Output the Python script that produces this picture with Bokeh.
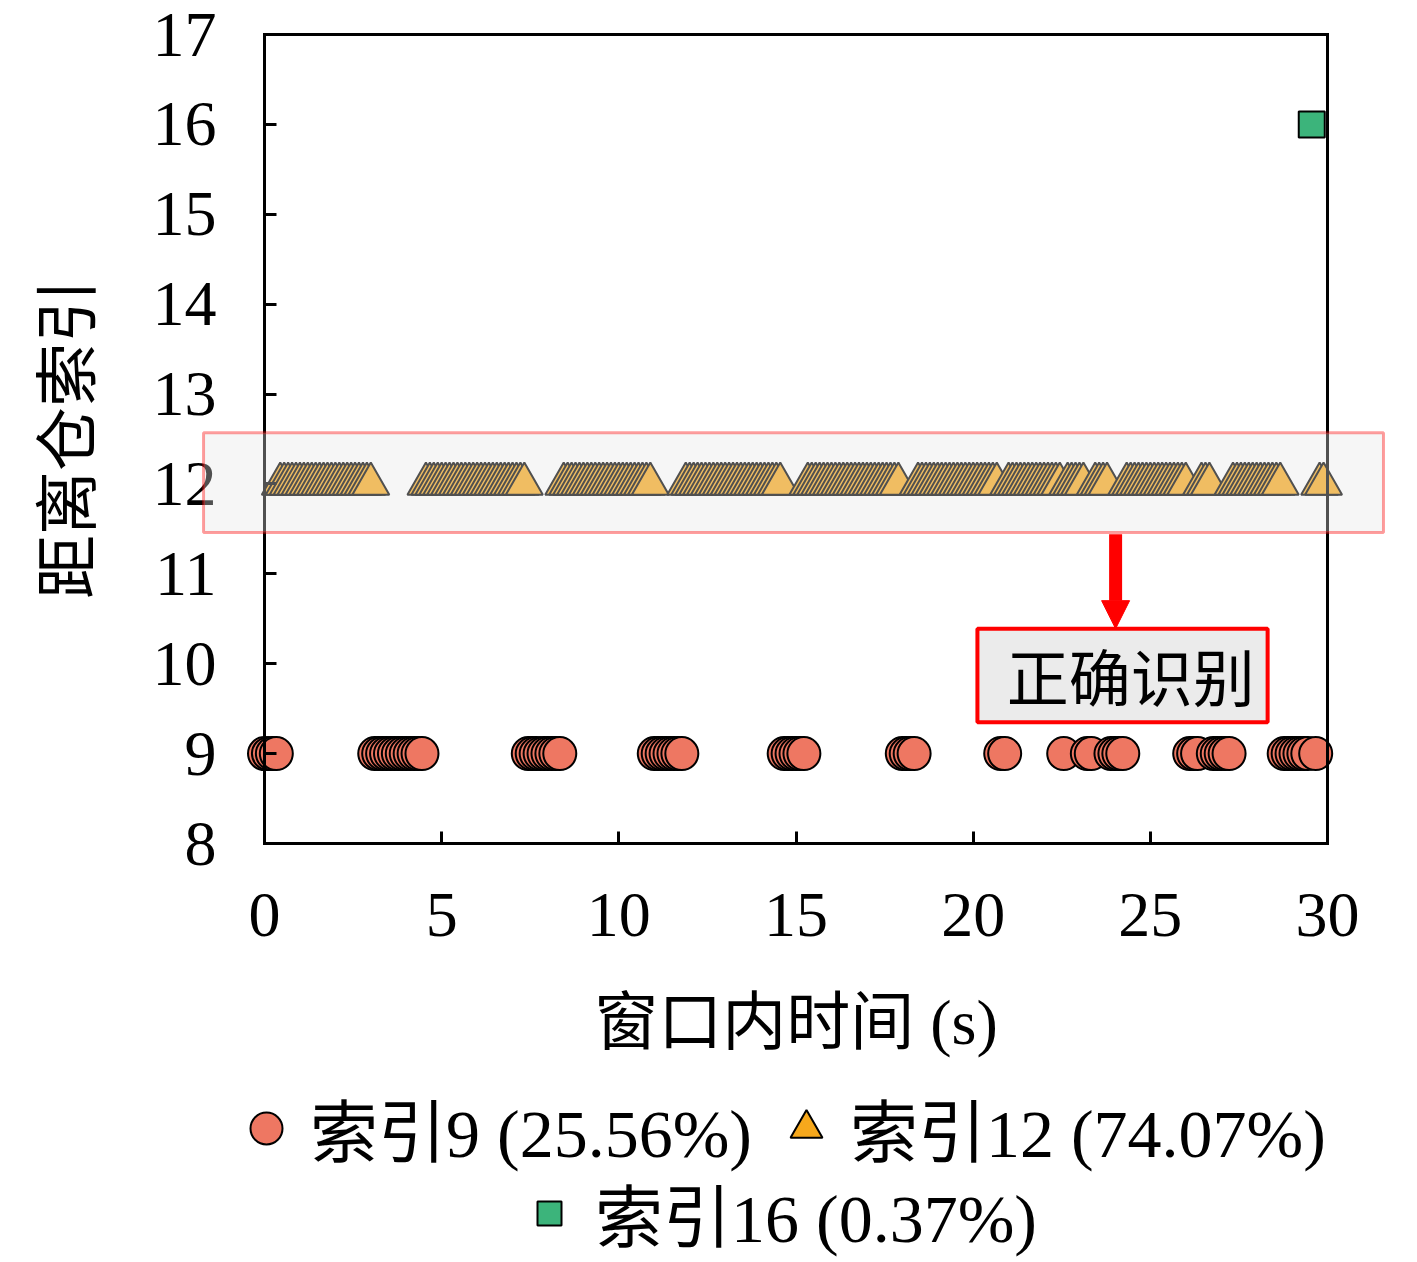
from bokeh.plotting import figure
from bokeh.models import (Range1d, FixedTicker, BoxAnnotation, Label, Arrow, NormalHead,
                          Legend, LegendItem, ColumnDataSource, LinearAxis)
from bokeh.embed import file_html
from bokeh.resources import INLINE

# ---- data -------------------------------------------------------------
WINDOW_S = 30.0          # window length (s)
N_SAMPLES = 270          # frames in the window

# identified range-bin index, stored as run-length pairs (bin, frames)
run_bins = [9, 12, 9, 12, 9, 12, 9, 12, 9, 12, 9, 12, 9, 12,
            9, 12, 9, 12, 9, 12, 9, 12, 9, 12, 9, 16, 9, 12]
run_frames = [4, 24, 13, 26, 9, 23, 8, 25, 6, 24, 4, 21, 2, 14,
              1, 5, 2, 4, 4, 16, 3, 3, 5, 13, 7, 1, 1, 2]

x_ticks = [0, 5, 10, 15, 20, 25, 30]
y_ticks = [8, 9, 10, 11, 12, 13, 14, 15, 16, 17]
x_lim = (0, 30)
y_lim = (8, 17)

series_bins = [9, 12, 16]
series_markers = ["circle", "triangle", "square"]
series_colors = ["#EE7762", "#F6A81C", "#3CB47B"]
series_sizes = [33, 37, 26]

x_label = "窗口内时间 (s)"
y_label = "距离仓索引"
note_text = "正确识别"

# ---- expand runs into per-frame samples -------------------------------
frame_bins = []
for b, n in zip(run_bins, run_frames):
    frame_bins += [b] * n
dt = WINDOW_S / N_SAMPLES
frame_times = [i * dt for i in range(len(frame_bins))]

LATIN = "Liberation Serif, Noto Sans CJK SC"
CJK = "Noto Sans CJK SC"

# canvas geometry: the axes box spans x 264..1327 px and y 34..843 px
W, H = 1417, 1262
BOX_L, BOX_R, BOX_T, BOX_B = 264, 1327, 34, 843
sx = (BOX_R - BOX_L) / (x_lim[1] - x_lim[0])
sy = (BOX_B - BOX_T) / (y_lim[1] - y_lim[0])
x_range = Range1d(x_lim[0] - BOX_L / sx, x_lim[1] + (W - BOX_R) / sx)
y_range = Range1d(y_lim[0] - (H - BOX_B) / sy, y_lim[1] + BOX_T / sy)

p = figure(frame_width=W, frame_height=H, x_range=x_range, y_range=y_range,
           output_backend="svg", toolbar_location=None,
           min_border=0, min_border_left=0, min_border_right=0,
           min_border_top=0, min_border_bottom=0)
p.background_fill_color = "white"
p.border_fill_color = "white"
p.grid.visible = False
p.outline_line_color = None

renderers = []
for b, mk, col, sz in zip(series_bins, series_markers, series_colors, series_sizes):
    xs = [t for t, v in zip(frame_times, frame_bins) if v == b]
    ys = [v for v in frame_bins if v == b]
    src = ColumnDataSource(dict(x=xs, y=ys))
    r = p.scatter("x", "y", source=src, marker=mk, size=sz, fill_color=col,
                  line_color="black", line_width=2)
    renderers.append((r, len(xs)))

xa, ya = p.xaxis[0], p.yaxis[0]
xa.fixed_location = y_lim[0]
xa.bounds = x_lim
ya.fixed_location = x_lim[0]
ya.bounds = y_lim

top = LinearAxis(fixed_location=y_lim[1], bounds=x_lim, ticker=FixedTicker(ticks=[]))
right = LinearAxis(fixed_location=x_lim[1], bounds=y_lim, ticker=FixedTicker(ticks=[]))
p.add_layout(top, "above")
p.add_layout(right, "right")

for ax in (xa, ya, top, right):
    ax.axis_line_width = 3
    ax.axis_line_color = "black"
    ax.axis_line_cap = "square"
    ax.major_tick_line_width = 3
    ax.major_tick_in = 12
    ax.major_tick_out = 0
    ax.minor_tick_line_color = None
    ax.major_label_text_font = LATIN
    ax.major_label_text_font_size = "64px"
    ax.major_label_text_color = "black"
    ax.axis_label_text_font = LATIN
    ax.axis_label_text_font_size = "64px"
    ax.axis_label_text_font_style = "normal"
    ax.axis_label_text_color = "black"

xa.ticker = FixedTicker(ticks=x_ticks)
ya.ticker = FixedTicker(ticks=y_ticks)
xa.axis_label = x_label
ya.axis_label = y_label
ya.axis_label_text_font = CJK
xa.major_label_standoff = 50
ya.major_label_standoff = 48
xa.axis_label_standoff = 48
ya.axis_label_standoff = 42

# translucent band over the index-12 row
band = BoxAnnotation(left=-1.72, right=31.58, bottom=11.46, top=12.57,
                     fill_color="#E6E6E6", fill_alpha=0.35,
                     line_color="red", line_alpha=0.38, line_width=3, level="overlay")
p.add_layout(band)

# arrow and note box
p.add_layout(Arrow(x_start=24.02, y_start=11.44, x_end=24.02, y_end=10.39,
                   line_color="red", line_width=13,
                   end=NormalHead(size=28, fill_color="red", line_color="red", line_width=1)))
p.add_layout(BoxAnnotation(left=20.12, right=28.31, bottom=9.35, top=10.39,
                           fill_color="#EBEBEB", fill_alpha=1,
                           line_color="red", line_alpha=1, line_width=4))
p.add_layout(Label(x=24.45, y=9.87, text=note_text, text_align="center",
                   text_baseline="middle", text_font=CJK, text_font_size="62px",
                   text_color="black"))

# legends: two rows, centred under the axis label
def pct(n):
    return f"{100.0 * n / N_SAMPLES:.2f}%"

labels = [f"索引{b} ({pct(n)})" for b, (r, n) in zip(series_bins, renderers)]

common = dict(orientation="horizontal", padding=0, margin=0,
              border_line_color=None, background_fill_alpha=0,
              label_text_font=LATIN, label_text_font_size="68px",
              label_text_color="black")
leg1 = Legend(items=[LegendItem(label=labels[0], renderers=[renderers[0][0]]),
                     LegendItem(label=labels[1], renderers=[renderers[1][0]])],
              location=(226, 85), glyph_width=80, glyph_height=92,
              label_standoff=4, spacing=14, **common)
leg2 = Legend(items=[LegendItem(label=labels[2], renderers=[renderers[2][0]])],
              location=(519, 0), glyph_width=60, glyph_height=74,
              label_standoff=16, **common)
p.add_layout(leg1)
p.add_layout(leg2)

open("out.html", "w").write(file_html(p, INLINE))
